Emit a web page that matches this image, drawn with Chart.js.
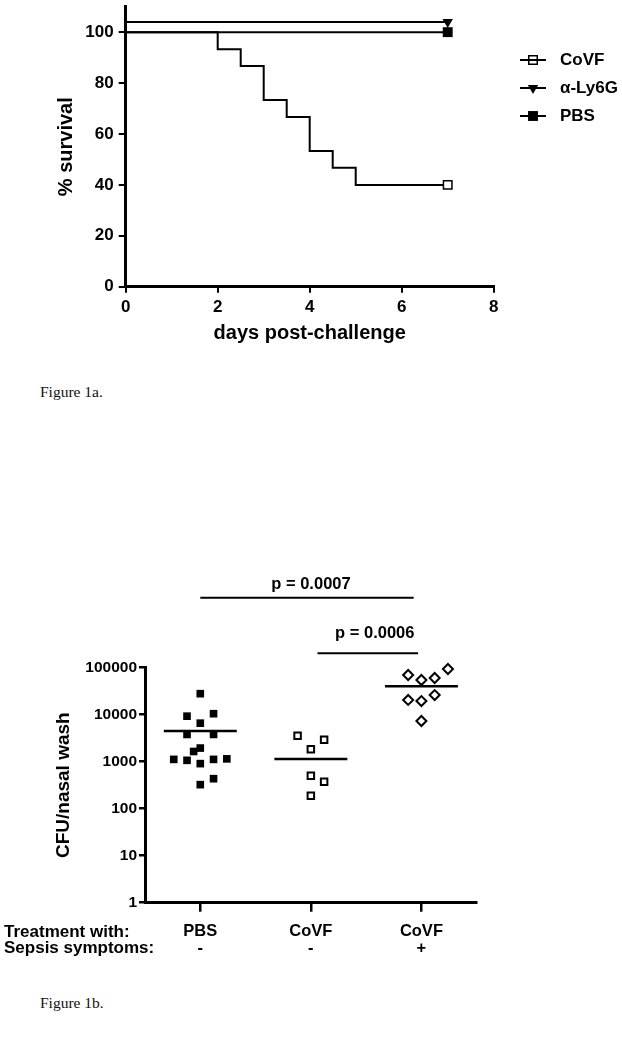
<!DOCTYPE html>
<html>
<head>
<meta charset="utf-8">
<title>Figure 1</title>
<script src="https://cdn.jsdelivr.net/npm/chart.js@4.4.1/dist/chart.umd.min.js"></script>
<style>
  html, body { margin: 0; padding: 0; background: #fff; }
  body { width: 622px; height: 1050px; position: relative; overflow: hidden; }
  .panel { position: absolute; left: 0; }
  #panelSurvival { top: 0; }
  #panelCfu { top: 540px; }
  .caption { position: absolute; left: 40px; font-family: "Liberation Serif", "Times New Roman", serif; font-size: 15.5px; line-height: 18px; color: #111; }
</style>
</head>
<body>
<div class="panel" id="panelSurvival"><canvas id="chartSurvival" width="622" height="360"></canvas></div>
<div class="caption" style="top:383px">Figure 1a.</div>
<div class="panel" id="panelCfu"><canvas id="chartCfu" width="622" height="430"></canvas></div>
<div class="caption" style="top:994px">Figure 1b.</div>

<script>
/* ---------- Figure 1a: survival ---------- */
const survivalDays = [0, 2, 2.5, 3, 3.5, 4, 4.5, 5, 7];
const covfSurvival = [100, 93.3, 86.7, 73.3, 66.7, 53.3, 46.7, 40, 40];
const ly6gDays = [0, 7];
const ly6gSurvival = [104, 104];
const pbsDays = [0, 7];
const pbsSurvival = [100, 100];
const survivalSeries = ['CoVF', 'α-Ly6G', 'PBS'];
const dayTicks = [0, 2, 4, 6, 8];
const survivalTicks = [0, 20, 40, 60, 80, 100];

/* ---------- Figure 1b: CFU per nasal wash ---------- */
const groupLabels = [['PBS', '-'], ['CoVF', '-'], ['CoVF', '+']];
const rowLabels = ['Treatment with:', 'Sepsis symptoms:'];
const pbsX   = [1.00, 0.88, 1.12, 1.00, 0.88, 1.12, 1.00, 0.94, 0.76, 0.88, 1.00, 1.12, 1.24, 1.12, 1.00];
const pbsCfu = [28000, 9300, 10500, 6600, 3800, 3800, 1950, 1650, 1120, 1070, 910, 1120, 1150, 435, 325];
const covfX   = [1.88, 2.00, 2.12, 2.00, 2.12, 2.00];
const covfCfu = [3570, 1840, 2940, 504, 375, 189];
const sepsisX   = [2.88, 3.00, 3.12, 3.24, 2.88, 3.00, 3.12, 3.00];
const sepsisCfu = [70000, 54700, 60400, 93800, 20600, 19500, 26200, 7350];
const groupMeans = [4500, 1140, 40200];
const cfuTicks = [1, 10, 100, 1000, 10000, 100000];
const pValues = ['p = 0.0007', 'p = 0.0006'];
const bracketFrom = [1.0, 2.06];
const bracketTo = [2.93, 2.97];

const FONT = '"Liberation Sans", Arial, Helvetica, sans-serif';
Chart.defaults.font.family = FONT;
Chart.defaults.font.weight = 'bold';
Chart.defaults.color = '#000';
Chart.defaults.animation = false;

const MEAN_HALF = 0.33;

function drawMarker(ctx, style, x, y, r, rotation) {
  ctx.beginPath();
  if (style === 'triangle') {
    let rad = (rotation || 0) * Math.PI / 180;
    for (let k = 0; k < 3; k++) {
      const px = x + Math.sin(rad) * r, py = y - Math.cos(rad) * r;
      if (k) ctx.lineTo(px, py); else ctx.moveTo(px, py);
      rad += 2 * Math.PI / 3;
    }
    ctx.closePath();
  } else {
    const s = r * Math.SQRT1_2;
    ctx.rect(x - s, y - s, 2 * s, 2 * s);
  }
}

// legend to the right: line segment + marker + label, like the original
const sideLegend = {
  id: 'sideLegend',
  afterDraw(chart, args, opts) {
    const ctx = chart.ctx;
    ctx.save();
    ctx.font = 'bold ' + opts.fontSize + 'px ' + FONT;
    ctx.textBaseline = 'middle';
    ctx.textAlign = 'left';
    chart.data.datasets.forEach((ds, i) => {
      const y = opts.y + i * opts.gap;
      const cx = opts.x + opts.lineLength / 2;
      const r = ds.pointRadius[ds.pointRadius.length - 1];
      ctx.fillStyle = ds.pointBackgroundColor;
      ctx.strokeStyle = ds.pointBorderColor;
      ctx.lineWidth = ds.pointBorderWidth;
      drawMarker(ctx, ds.pointStyle, cx, y, r, ds.pointRotation);
      ctx.fill();
      if (ds.pointBorderWidth) ctx.stroke();
      ctx.strokeStyle = ds.borderColor;
      ctx.lineWidth = ds.borderWidth;
      ctx.beginPath();
      ctx.moveTo(opts.x, y);
      ctx.lineTo(opts.x + opts.lineLength, y);
      ctx.stroke();
      ctx.fillStyle = '#000';
      ctx.fillText(ds.label, opts.textX, y);
    });
    ctx.restore();
  }
};

function endMarker(n, r) {
  return Array.from({ length: n }, (_, i) => (i === n - 1 ? r : 0));
}

function fixWidth(w) {
  return s => { s.width = w; s.paddingTop = 0; s.paddingBottom = 0; s.paddingLeft = 0; s.paddingRight = 0; };
}
function fixHeight(h) {
  return s => { s.height = h; s.paddingTop = 0; s.paddingBottom = 0; s.paddingLeft = 0; s.paddingRight = 0; };
}

new Chart(document.getElementById('chartSurvival'), {
  type: 'line',
  data: {
    datasets: [
      {
        label: survivalSeries[0],
        data: survivalDays.map((d, i) => ({ x: d, y: covfSurvival[i] })),
        stepped: 'before', borderColor: '#000', borderWidth: 2, clip: false,
        pointStyle: 'rect', pointRadius: endMarker(survivalDays.length, 6),
        pointBackgroundColor: '#fff', pointBorderColor: '#000', pointBorderWidth: 1.5, pointRotation: 0
      },
      {
        label: survivalSeries[1],
        data: ly6gDays.map((d, i) => ({ x: d, y: ly6gSurvival[i] })),
        stepped: 'before', borderColor: '#000', borderWidth: 2, clip: false,
        pointStyle: 'triangle', pointRotation: 180, pointRadius: endMarker(ly6gDays.length, 6),
        pointBackgroundColor: '#000', pointBorderColor: '#000', pointBorderWidth: 0
      },
      {
        label: survivalSeries[2],
        data: pbsDays.map((d, i) => ({ x: d, y: pbsSurvival[i] })),
        stepped: 'before', borderColor: '#000', borderWidth: 2, clip: false,
        pointStyle: 'rect', pointRadius: endMarker(pbsDays.length, 7),
        pointBackgroundColor: '#000', pointBorderColor: '#000', pointBorderWidth: 0, pointRotation: 0
      }
    ]
  },
  options: {
    responsive: false,
    devicePixelRatio: 1,
    events: [],
    layout: { autoPadding: false, padding: { left: 0, top: 6.7, right: 128.3, bottom: 0 } },
    scales: {
      x: {
        type: 'linear', min: 0, max: 8,
        afterBuildTicks: s => { s.ticks = dayTicks.map(v => ({ value: v })); },
        afterFit: fixHeight(73.3),
        ticks: { font: { size: 17, weight: 'bold' }, padding: 4, maxRotation: 0 },
        grid: { drawOnChartArea: false, drawTicks: true, tickLength: 6, color: '#000', lineWidth: 2 },
        border: { display: true, color: '#000', width: 3 },
        title: { display: true, text: 'days post-challenge', font: { size: 20, weight: 'bold' }, padding: { top: 0, bottom: 15 } }
      },
      y: {
        type: 'linear', min: 0, max: 110,
        afterBuildTicks: s => { s.ticks = survivalTicks.map(v => ({ value: v })); },
        afterFit: fixWidth(125.7),
        ticks: { font: { size: 17, weight: 'bold' }, padding: 5 },
        grid: { drawOnChartArea: false, drawTicks: true, tickLength: 7, color: '#000', lineWidth: 2 },
        border: { display: true, color: '#000', width: 3 },
        title: { display: true, text: '% survival', font: { size: 20, weight: 'bold' }, padding: { top: 54.7, bottom: 0 } }
      }
    },
    plugins: {
      legend: { display: false },
      tooltip: { enabled: false },
      sideLegend: { x: 520, lineLength: 26, textX: 560, y: 60, gap: 28, fontSize: 17 }
    }
  },
  plugins: [sideLegend]
});

// p-value brackets above the plot and the row titles under the x axis
const cfuExtras = {
  id: 'cfuExtras',
  afterDraw(chart, args, opts) {
    const { ctx, chartArea } = chart;
    const x = chart.scales.x;
    ctx.save();
    ctx.fillStyle = '#000';
    ctx.strokeStyle = '#000';
    ctx.lineWidth = 2;
    ctx.font = 'bold 16.5px ' + FONT;
    ctx.textAlign = 'center';
    ctx.textBaseline = 'middle';
    pValues.forEach((txt, i) => {
      const x0 = x.getPixelForValue(bracketFrom[i]);
      const x1 = x.getPixelForValue(bracketTo[i]);
      const ly = chartArea.top - opts.lineOffset[i];
      ctx.beginPath();
      ctx.moveTo(x0, ly);
      ctx.lineTo(x1, ly);
      ctx.stroke();
      ctx.fillText(txt, (x0 + x1) / 2 + opts.textShift[i], chartArea.top - opts.textOffset[i]);
    });
    const t = x.options.ticks;
    const lh = t.font.size * t.font.lineHeight;
    const y0 = x.top + x.options.grid.tickLength + t.padding + lh / 2;
    ctx.font = 'bold ' + opts.rowFontSize + 'px ' + FONT;
    ctx.textAlign = 'left';
    rowLabels.forEach((txt, i) => ctx.fillText(txt, opts.rowX, y0 + i * lh));
    ctx.restore();
  }
};

function meanLine(g) {
  return [{ x: g + 1 - MEAN_HALF, y: groupMeans[g] }, { x: g + 1 + MEAN_HALF, y: groupMeans[g] }];
}

new Chart(document.getElementById('chartCfu'), {
  type: 'scatter',
  data: {
    datasets: [
      { data: pbsX.map((v, i) => ({ x: v, y: pbsCfu[i] })), pointStyle: 'rect', pointRadius: 5.4,
        pointBackgroundColor: '#000', pointBorderWidth: 0, clip: false },
      { data: covfX.map((v, i) => ({ x: v, y: covfCfu[i] })), pointStyle: 'rect', pointRadius: 4.6,
        pointBackgroundColor: '#fff', pointBorderColor: '#000', pointBorderWidth: 2, clip: false },
      { data: sepsisX.map((v, i) => ({ x: v, y: sepsisCfu[i] })), pointStyle: 'rectRot', pointRadius: 5,
        pointBackgroundColor: '#fff', pointBorderColor: '#000', pointBorderWidth: 2, clip: false },
      ...groupMeans.map((_, g) => ({ data: meanLine(g), showLine: true, borderColor: '#000', borderWidth: 2.5, pointRadius: 0, clip: false }))
    ]
  },
  options: {
    responsive: false,
    devicePixelRatio: 1,
    events: [],
    layout: { autoPadding: false, padding: { left: 0, top: 127.7, right: 145.3, bottom: 0 } },
    scales: {
      x: {
        type: 'linear', min: 0.5, max: 3.5,
        afterBuildTicks: s => { s.ticks = groupLabels.map((_, i) => ({ value: i + 1 })); },
        afterFit: fixHeight(67.3),
        ticks: { font: { size: 16.5, weight: 'bold', lineHeight: 1 }, padding: 12, maxRotation: 0,
          callback: v => groupLabels[Math.round(v) - 1] },
        grid: { drawOnChartArea: false, drawTicks: true, tickLength: 9, color: '#000', lineWidth: 2.5 },
        border: { display: true, color: '#000', width: 3 }
      },
      y: {
        type: 'logarithmic', min: 1, max: 100000,
        afterBuildTicks: s => { s.ticks = cfuTicks.map(v => ({ value: v })); },
        afterFit: fixWidth(145),
        ticks: { font: { size: 15.5, weight: 'bold' }, padding: 2, callback: v => String(v) },
        grid: { drawOnChartArea: false, drawTicks: true, tickLength: 6, color: '#000', lineWidth: 2.5 },
        border: { display: true, color: '#000', width: 3 },
        title: { display: true, text: 'CFU/nasal wash', font: { size: 19, weight: 'bold' }, padding: { top: 52.8, bottom: 0 } }
      }
    },
    plugins: {
      legend: { display: false },
      tooltip: { enabled: false },
      cfuExtras: { lineOffset: [70, 14.4], textOffset: [83.5, 33.9], textShift: [4, 7], rowX: 4, rowFontSize: 17 }
    }
  },
  plugins: [cfuExtras]
});
</script>
</body>
</html>
